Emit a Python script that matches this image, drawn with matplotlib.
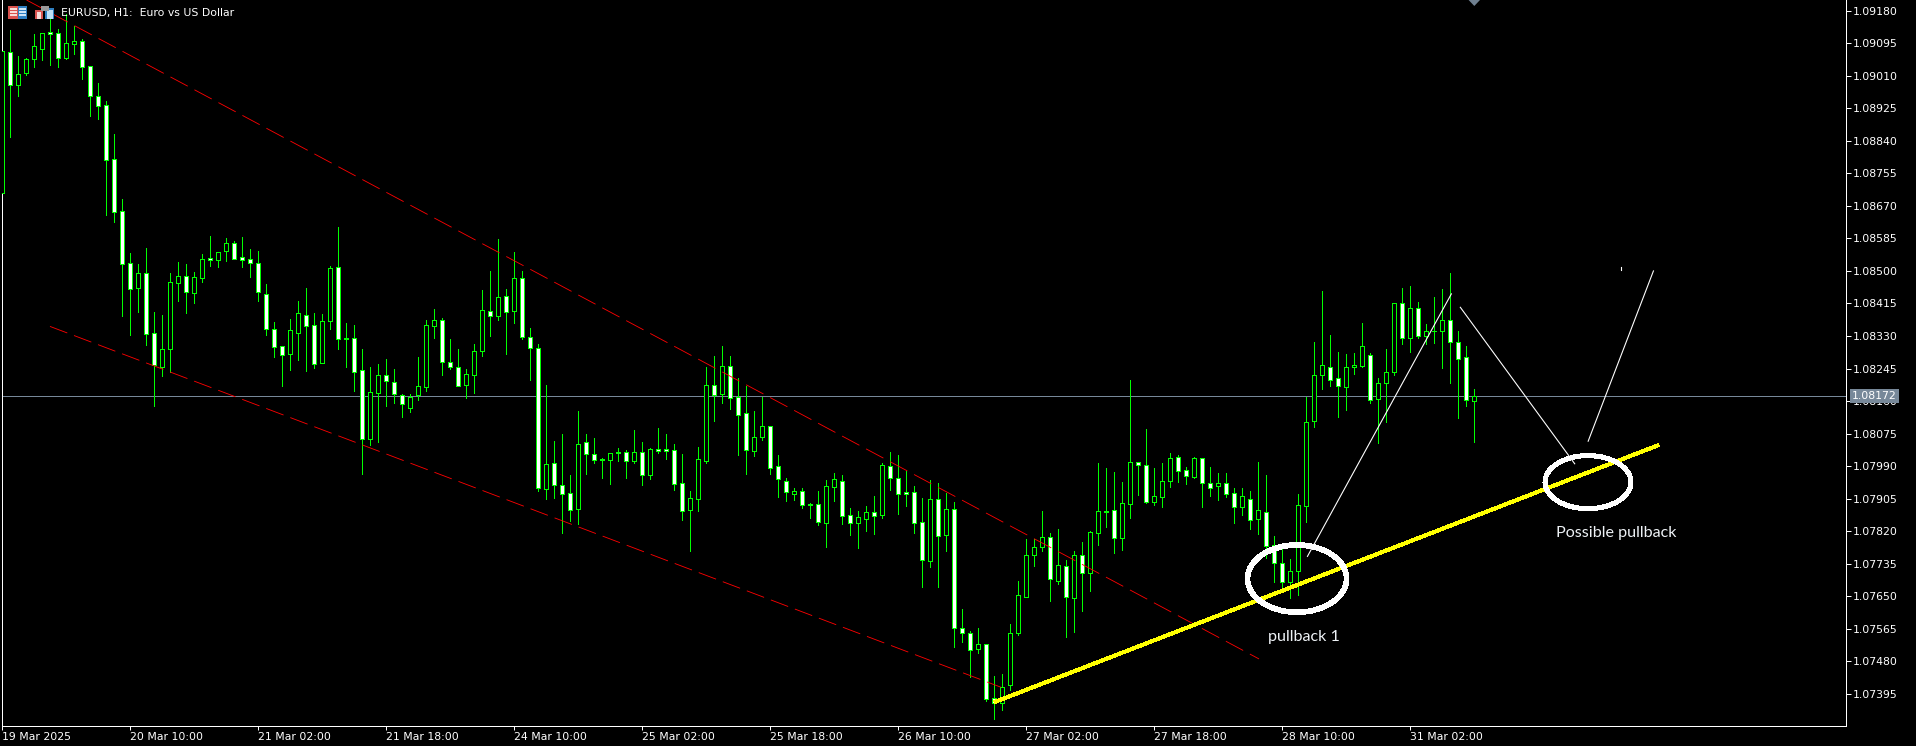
import matplotlib
matplotlib.use('Agg')
import matplotlib.pyplot as plt
from matplotlib.patches import Ellipse, Polygon, Rectangle

W_PX, H_PX = 1916, 746
GREEN = '#00ff00'
SLATE = '#778899'
PX = 0.72  # one pixel in points at dpi 100

# H1 candles, in points (1e-5), oldest bar first
opens = [
    108703, 109071, 108987, 109016, 109053, 109081, 109124, 109123, 109057, 109094,
    109100, 109035, 108956, 108933, 108792, 108656, 108522, 108456, 108494, 108337,
    108250, 108297, 108469, 108488, 108443, 108482, 108533, 108529, 108551, 108572,
    108536, 108530, 108522, 108441, 108347, 108305, 108284, 108339, 108386, 108358,
    108260, 108368, 108509, 108324, 108324, 108240, 108061, 108180, 108227, 108211,
    108177, 108142, 108176, 108197, 108357, 108371, 108261, 108250, 108203, 108229,
    108291, 108394, 108383, 108434, 108396, 108481, 108327, 108298, 107931, 107997,
    107940, 107919, 107879, 108052, 108021, 108009, 108007, 108027, 108026, 108002,
    108026, 107968, 108034, 108034, 108031, 107945, 107876, 107905, 108004, 108201,
    108179, 108251, 108171, 108128, 108030, 108067, 108094, 107989, 107952, 107918,
    107925, 107891, 107890, 107842, 107936, 107952, 107861, 107842, 107852, 107869,
    107863, 107989, 107958, 107921, 107921, 107845, 107742, 107905, 107810, 107877,
    107566, 107555, 107512, 107524, 107385, 107372, 107417, 107555, 107649, 107757,
    107779, 107804, 107691, 107728, 107646, 107757, 107710, 107816, 107870, 107874,
    107803, 107892, 108000, 107992, 107897, 107910, 107950, 108013, 107979, 107962,
    108010, 107947, 107937, 107945, 107919, 107884, 107905, 107853, 107870, 107785,
    107737, 107687, 107717, 107887, 108109, 108229, 108249, 108219, 108197, 108248,
    108252, 108279, 108166, 108207, 108237, 108417, 108326, 108404, 108330, 108344,
    108343, 108373, 108315, 108274, 108161,
]
closes = [
    109074, 108987, 109014, 109053, 109087, 109121, 109120, 109057, 109095, 109100,
    109034, 108956, 108932, 108791, 108655, 108519, 108454, 108494, 108336, 108254,
    108295, 108470, 108486, 108446, 108483, 108530, 108529, 108549, 108572, 108532,
    108529, 108522, 108444, 108347, 108302, 108281, 108345, 108389, 108357, 108257,
    108368, 108507, 108323, 108321, 108237, 108061, 108183, 108227, 108213, 108179,
    108151, 108170, 108198, 108358, 108371, 108263, 108250, 108200, 108230, 108292,
    108397, 108383, 108433, 108392, 108481, 108328, 108298, 107934, 107995, 107941,
    107918, 107876, 108049, 108022, 108007, 108006, 108023, 108024, 108004, 108026,
    107968, 108034, 108029, 108030, 107944, 107873, 107906, 108008, 108201, 108177,
    108251, 108169, 108124, 108033, 108065, 108094, 107986, 107957, 107921, 107926,
    107889, 107889, 107844, 107937, 107955, 107860, 107842, 107856, 107871, 107860,
    107992, 107959, 107918, 107917, 107842, 107745, 107905, 107808, 107879, 107567,
    107555, 107510, 107524, 107382, 107371, 107412, 107553, 107652, 107757, 107779,
    107804, 107694, 107731, 107647, 107757, 107710, 107817, 107872, 107873, 107803,
    107893, 108000, 107992, 107897, 107911, 107950, 108010, 107978, 107965, 108010,
    107947, 107934, 107947, 107918, 107884, 107911, 107850, 107874, 107782, 107738,
    107688, 107717, 107889, 108106, 108229, 108253, 108216, 108198, 108248, 108255,
    108305, 108164, 108208, 108237, 108415, 108326, 108404, 108330, 108342, 108342,
    108373, 108315, 108270, 108164, 108172,
]
highs = [
    109074, 109130, 109062, 109056, 109119, 109121, 109158, 109131, 109171, 109140,
    109105, 109035, 108990, 108943, 108858, 108688, 108547, 108518, 108560, 108393,
    108385, 108494, 108523, 108518, 108497, 108544, 108591, 108549, 108586, 108578,
    108589, 108557, 108551, 108466, 108366, 108305, 108374, 108421, 108455, 108389,
    108387, 108513, 108615, 108364, 108358, 108296, 108249, 108257, 108269, 108245,
    108178, 108178, 108275, 108372, 108400, 108376, 108322, 108295, 108245, 108309,
    108450, 108500, 108583, 108453, 108550, 108500, 108350, 108309, 108202, 108056,
    108073, 107967, 108134, 108073, 108063, 108010, 108023, 108036, 108032, 108084,
    108053, 108037, 108090, 108073, 108048, 108022, 107925, 108040, 108249, 108278,
    108304, 108278, 108220, 108199, 108134, 108171, 108094, 108019, 107958, 107932,
    107934, 107894, 107924, 107953, 107972, 107966, 107880, 107872, 107885, 107913,
    107997, 108027, 108019, 107978, 107938, 107906, 107953, 107945, 107919, 107896,
    107616, 107560, 107566, 107526, 107441, 107446, 107577, 107690, 107799, 107799,
    107873, 107815, 107825, 107744, 107767, 107791, 107820, 107998, 107985, 107975,
    107948, 108215, 108000, 108087, 107985, 107998, 108024, 108019, 107988, 108014,
    108010, 107988, 107972, 107972, 107933, 107933, 107924, 108000, 107966, 107807,
    107774, 107748, 107918, 108171, 108313, 108447, 108332, 108287, 108282, 108285,
    108363, 108285, 108220, 108295, 108416, 108455, 108460, 108418, 108361, 108431,
    108452, 108494, 108342, 108303, 108191,
]
lows = [
    108703, 108851, 108957, 109012, 109034, 109051, 109038, 109034, 109054, 109067,
    109002, 108905, 108897, 108646, 108628, 108382, 108332, 108393, 108306, 108148,
    108226, 108236, 108422, 108391, 108417, 108472, 108514, 108511, 108527, 108532,
    108509, 108485, 108421, 108332, 108275, 108199, 108241, 108267, 108238, 108246,
    108260, 108348, 108296, 108249, 108186, 107969, 108044, 108053, 108148, 108155,
    108118, 108131, 108162, 108185, 108325, 108228, 108243, 108200, 108168, 108181,
    108277, 108330, 108372, 108283, 108364, 108322, 108215, 107925, 107904, 107907,
    107815, 107846, 107839, 107969, 107998, 107959, 107943, 108003, 107959, 107998,
    107941, 107956, 108024, 108009, 107928, 107849, 107768, 107873, 107998, 108109,
    108155, 108139, 108019, 107969, 108016, 108059, 107969, 107909, 107898, 107901,
    107880, 107854, 107837, 107778, 107898, 107838, 107810, 107776, 107820, 107812,
    107854, 107927, 107864, 107885, 107815, 107674, 107726, 107674, 107768, 107517,
    107530, 107438, 107501, 107376, 107329, 107353, 107405, 107549, 107649, 107729,
    107768, 107637, 107682, 107543, 107556, 107611, 107663, 107784, 107831, 107763,
    107771, 107854, 107914, 107893, 107888, 107883, 107935, 107948, 107943, 107959,
    107883, 107912, 107901, 107909, 107841, 107862, 107825, 107812, 107750, 107687,
    107673, 107644, 107652, 107843, 108092, 108191, 108199, 108118, 108136, 108230,
    108248, 108154, 108050, 108105, 108228, 108309, 108288, 108324, 108309, 108311,
    108246, 108207, 108115, 108146, 108052,
]

time_labels = [
    '19 Mar 2025', '20 Mar 10:00', '21 Mar 02:00', '21 Mar 18:00', '24 Mar 10:00',
    '25 Mar 02:00', '25 Mar 18:00', '26 Mar 10:00', '27 Mar 02:00', '27 Mar 18:00',
    '28 Mar 10:00', '31 Mar 02:00',
]
price_ticks = [
    1.09180, 1.09095, 1.09010, 1.08925, 1.08840, 1.08755, 1.08670, 1.08585,
    1.08500, 1.08415, 1.08330, 1.08245, 1.08160, 1.08075, 1.07990, 1.07905,
    1.07820, 1.07735, 1.07650, 1.07565, 1.07480, 1.07395,
]
last_price = 1.08172

# Drawn objects: (bar, price) pairs
channel_upper_x, channel_upper_y = [3.03, 157.09], [1.09208, 1.07486]
channel_lower_x, channel_lower_y = [5.96, 124.84], [1.08355, 1.07412]
trend_x, trend_y = [124.0, 207.05], [1.07373, 1.08045]
leg_a_x, leg_a_y = [163.14, 181.13], [1.07754, 1.08440]
leg_b_x, leg_b_y = [182.25, 196.55], [1.08405, 1.07996]
leg_c_x, leg_c_y = [198.23, 206.39], [1.08055, 1.08500]
speck_x, speck_y = [202.36, 202.36], [1.08510, 1.08502]

plt.rcParams['lines.scale_dashes'] = False
plt.rcParams['font.family'] = 'DejaVu Sans'

fig = plt.figure(figsize=(W_PX / 100, H_PX / 100), dpi=100, facecolor='black')
ax = fig.add_axes([2.3 / W_PX, (H_PX - 726.3) / H_PX, (1846 - 2.3) / W_PX, 726.3 / H_PX])
ax.set_facecolor('black')
ax.set_xlim(0, 230.46)
ax.set_ylim(1.07310, 1.09208)

# Last price line under the candles
ax.axhline(last_price, color=SLATE, lw=PX, zorder=1)

# Candles
bars = list(range(len(opens)))
ax.vlines(bars, [v / 1e5 for v in lows], [v / 1e5 for v in highs],
          color=GREEN, lw=PX, zorder=2, antialiased=False)
bottoms = [min(o, c) / 1e5 for o, c in zip(opens, closes)]
sizes = [abs(o - c) / 1e5 for o, c in zip(opens, closes)]
fills = ['black' if c > o else 'white' for o, c in zip(opens, closes)]
ax.bar(bars, sizes, bottom=bottoms, width=0.5, color=fills, edgecolor=GREEN,
       linewidth=PX, zorder=3, antialiased=False)

# Falling channel
ax.plot(channel_upper_x, channel_upper_y, color='#ff0000', lw=0.85 * PX, zorder=4,
        dashes=(19.6 * PX, 7.6 * PX), dash_capstyle='butt')
ax.plot(channel_lower_x, channel_lower_y, color='#ff0000', lw=0.85 * PX, zorder=4,
        dashes=(18.5 * PX, 7.2 * PX), dash_capstyle='butt')

# Trend line and hand drawn legs
ax.plot(trend_x, trend_y, color='#ffff00', lw=3 * PX, zorder=5, solid_capstyle='butt',
        antialiased=False)
for xs, ys in [(leg_a_x, leg_a_y), (leg_b_x, leg_b_y), (leg_c_x, leg_c_y), (speck_x, speck_y)]:
    ax.plot(xs, ys, color='white', lw=1.1 * PX, zorder=6)

ax.add_patch(Ellipse((161.84, 1.07696), 12.38, 0.00176, fill=False, edgecolor='white',
                     lw=4.6 * PX, zorder=6, antialiased=False))
ax.add_patch(Ellipse((198.21, 1.07948), 10.75, 0.00139, fill=False, edgecolor='white',
                     lw=4 * PX, zorder=6, antialiased=False))

ax.text(162.76, 1.07543, 'pullback 1', color='#eef2f6', family='Lato', fontsize=11.6,
        ha='center', va='center', zorder=7)
ax.text(201.8, 1.07816, 'Possible pullback', color='#eef2f6', family='Lato', fontsize=11.6,
        ha='center', va='center', zorder=7)

# Axes
for side in ['left', 'right', 'bottom']:
    ax.spines[side].set_color('white')
    ax.spines[side].set_linewidth(PX)
ax.spines['top'].set_visible(False)

ax.yaxis.tick_right()
ax.set_yticks(price_ticks, [f'{p:.5f}' for p in price_ticks])
ax.tick_params(axis='y', colors='white', length=5 * PX, width=PX, labelsize=7.8, pad=1)

ax.set_xticks(range(0, 16 * len(time_labels), 16), time_labels, ha='left')
ax.tick_params(axis='x', colors='white', length=4 * PX, width=PX, labelsize=7.8, pad=1.5)

# Last price tag over the axis labels
ax.annotate(f'{last_price:.5f}', xy=(1, last_price), xycoords=ax.get_yaxis_transform(),
            xytext=(4.5, 0), textcoords='offset points', va='center', ha='left',
            color='white', fontsize=7.8, zorder=10, annotation_clip=False,
            bbox=dict(boxstyle='square,pad=0.18', facecolor=SLATE, edgecolor=SLATE, lw=0))

# Chart header
fig.text(61 / W_PX, 1 - 13.3 / H_PX, 'EURUSD, H1:  Euro vs US Dollar', color='white',
         fontsize=7.8, va='center', ha='left')


def px_rect(x, y, w, h, **kw):
    fig.add_artist(Rectangle((x / W_PX, 1 - (y + h) / H_PX), w / W_PX, h / H_PX,
                             transform=fig.transFigure, lw=0, **kw))


# Table icon
px_rect(8, 6, 10, 13, facecolor='#d9534f')
px_rect(18, 6, 9, 13, facecolor='#2f7fc1')
for row in [8, 11, 14]:
    px_rect(10, row, 7, 2, facecolor='#f6dcd8')
    px_rect(19, row, 7, 2, facecolor='#cfe4f5')
# Chart icon
px_rect(35, 10, 8, 9, facecolor='#d9534f')
px_rect(37, 12, 4, 7, facecolor='#f6dcd8')
px_rect(45, 8, 9, 11, facecolor='#2f7fc1')
px_rect(47, 10, 6, 9, facecolor='#bfe0f7')
px_rect(41, 6, 8, 5, facecolor='#9a9a9a')

# Last bar marker at the top edge
fig.add_artist(Polygon([(1468.6 / W_PX, 1), (1480 / W_PX, 1), (1474.3 / W_PX, 1 - 6 / H_PX)],
                       closed=True, transform=fig.transFigure, facecolor='#708090', lw=0))

fig.savefig('out.png', dpi=100, facecolor='black')
